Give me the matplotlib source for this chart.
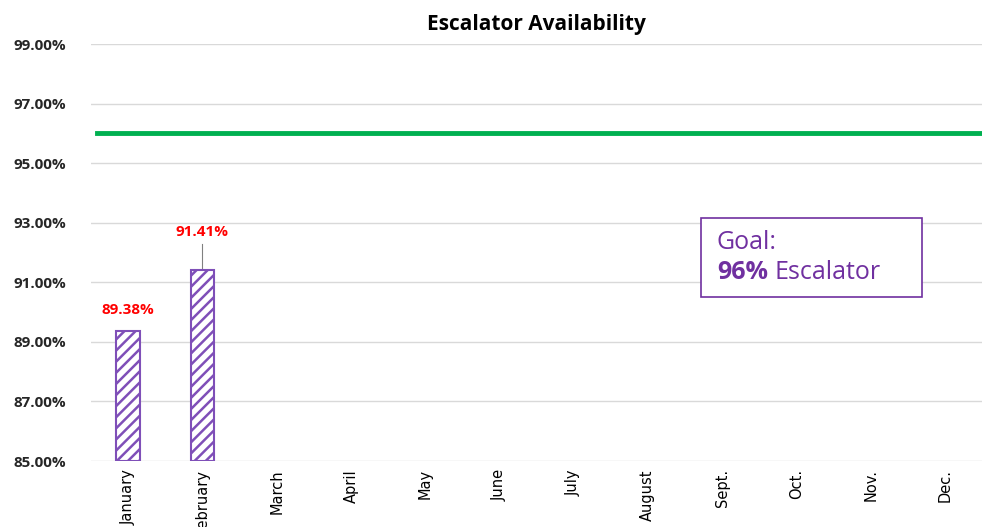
import matplotlib
matplotlib.use("Agg")
import matplotlib.pyplot as plt
from matplotlib import font_manager
from matplotlib.patches import Rectangle

months = ["January", "February", "March", "April", "May", "June", "July",
          "August", "Sept.", "Oct.", "Nov.", "Dec."]
availability = [89.38, 91.41]
goal = 96.0
yticks = [85, 87, 89, 91, 93, 95, 97, 99]

names = {f.name for f in font_manager.fontManager.ttflist}
narrow = "Liberation Sans Narrow" if "Liberation Sans Narrow" in names else "DejaVu Sans"

plt.rcParams["font.family"] = ["Open Sans", "DejaVu Sans"]
purple = "#7030A0"
bar_purple = "#7F4FB8"

fig = plt.figure(figsize=(9.82, 5.27), dpi=100)
ax = fig.add_axes([0.0927, 0.1252, 0.9073, 0.7913])

x = list(range(len(months)))
plt.rcParams["hatch.linewidth"] = 1.8
ax.bar(x[:len(availability)], [v - 85 for v in availability], bottom=85, width=0.32,
       facecolor="white", edgecolor=bar_purple, hatch="///", linewidth=1.5, zorder=3)

ax.plot([-0.42, 11.5], [goal, goal], color="#00B050", linewidth=3.5, zorder=4)

ax.set_xlim(-0.5, 11.5)
ax.set_ylim(85, 99)
ax.set_yticks(yticks)
ax.set_yticklabels([f"{v:.2f}%" for v in yticks], fontweight="bold", fontsize=11, color="#262626")
ax.set_xticks(x)
ax.set_xticklabels(months, rotation=90, fontsize=10.5, family=narrow, color="black")
ax.tick_params(length=0, pad=6)
ax.tick_params(axis="y", pad=18)
ax.grid(axis="y", color="#D9D9D9", linewidth=1, zorder=0)
for s in ax.spines.values():
    s.set_visible(False)

# data labels
ax.text(0, 89.85, "89.38%", color="#FF0000", fontweight="bold", fontsize=11, ha="center", va="bottom")
ax.text(1, 92.45, "91.41%", color="#FF0000", fontweight="bold", fontsize=11, ha="center", va="bottom")
ax.plot([1, 1], [91.41, 92.3], color="#808080", linewidth=0.8, zorder=2)

ax.set_title("Escalator Availability", fontweight="bold", fontsize=15, pad=10)

# goal box
ax.add_patch(Rectangle((7.715, 90.50), 10.69 - 7.715, 93.15 - 90.50, facecolor="white",
                       edgecolor=purple, linewidth=1.2, zorder=5))
gfs = 18
ax.text(7.93, 92.35, "Goal:", color=purple, fontsize=gfs, ha="left", va="center", zorder=6)
t96 = ax.text(7.93, 91.34, "96%", color=purple, fontsize=gfs, fontweight="bold",
              ha="left", va="center", zorder=6)
fig.canvas.draw()
bb = t96.get_window_extent()
x_end = ax.transData.inverted().transform((bb.x1 + 7, bb.y0))[0]
ax.text(x_end, 91.34, "Escalator", color=purple, fontsize=gfs, ha="left", va="center", zorder=6)

fig.savefig("out.png", dpi=100)
